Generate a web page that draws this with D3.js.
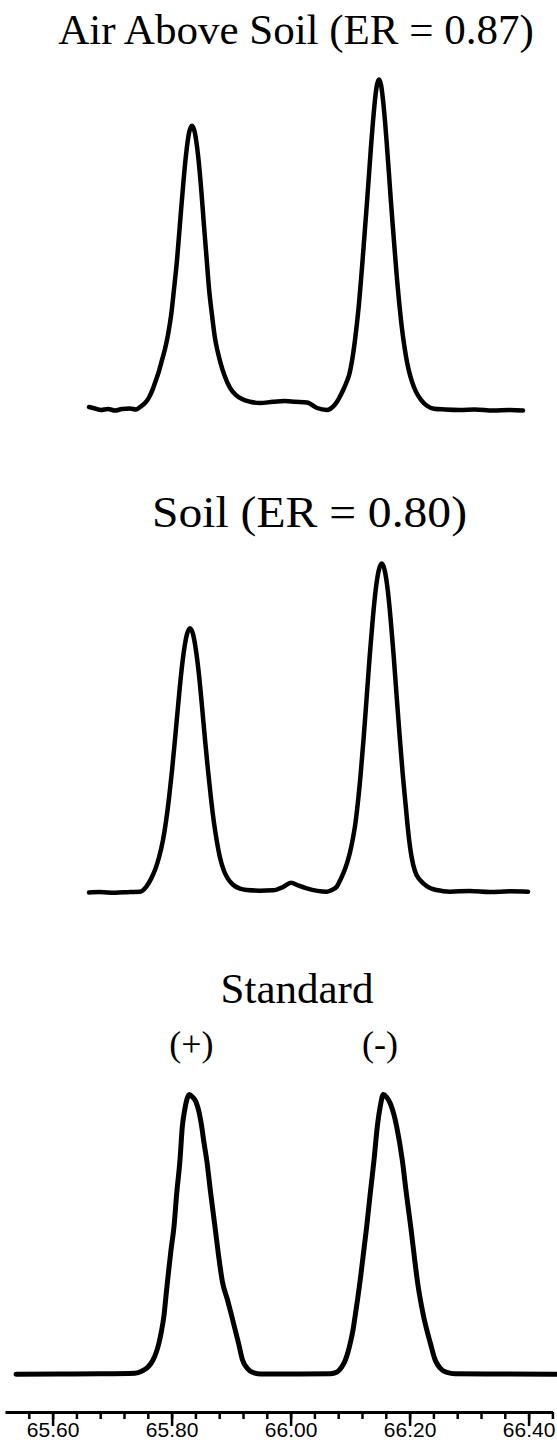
<!DOCTYPE html>
<html>
<head>
<meta charset="utf-8">
<script src="https://cdn.jsdelivr.net/npm/d3@7"></script>
<style>
  body { margin: 0; background: #fff; }
  svg { display: block; }
</style>
</head>
<body>
<div id="chart"></div>
<script>
// panel titles and peak labels
const titles = ["Air Above Soil (ER = 0.87)", "Soil (ER = 0.80)", "Standard"];
const peakLabels = ["(+)", "(-)"];
const peakLabelTimes = [65.8334, 66.1503];

// retention time axis (minutes)
const majorTicks = [65.60, 65.80, 66.00, 66.20, 66.40];
const tickLabels = ["65.60", "65.80", "66.00", "66.20", "66.40"];
const minorTicks = [65.56, 65.60, 65.64, 65.68, 65.72, 65.76, 65.80, 65.84, 65.88, 65.92, 65.96, 66.00,
  66.04, 66.08, 66.12, 66.16, 66.20, 66.24, 66.28, 66.32, 66.36, 66.40, 66.44];

// [time, relative signal]
const airAboveSoil = [
  [65.6612, 0.6], [65.6713, 0.15], [65.6813, -0.3], [65.6931, 0], [65.7049, -0.46], [65.7166, 0],
  [65.7301, 0.15], [65.7402, -0.15], [65.7469, 0.6], [65.7553, 1.8], [65.7620, 3.5], [65.7687, 6.2],
  [65.7738, 8.8], [65.7788, 11.5], [65.7839, 14.9], [65.7889, 18.2], [65.7939, 22.5], [65.7990, 28.2],
  [65.8040, 36.3], [65.8091, 45.2], [65.8141, 56.3], [65.8192, 67.5], [65.8242, 77.1], [65.8292, 83.7],
  [65.8343, 86.0], [65.8393, 83.7], [65.8444, 77.1], [65.8494, 67.5], [65.8545, 55.5], [65.8587, 46.0],
  [65.8629, 36.5], [65.8679, 28.5], [65.8729, 21.5], [65.8780, 17.0], [65.8830, 13.5], [65.8897, 9.8],
  [65.8982, 6.4], [65.9082, 4.2], [65.9183, 3.0], [65.9318, 2.2], [65.9486, 1.8], [65.9704, 2.2],
  [65.9906, 2.4], [66.0074, 2.2], [66.0276, 2.0], [66.0444, 0.3], [66.0612, -0.3], [66.0713, 0.7],
  [66.0780, 2.2], [66.0847, 4.4], [66.0897, 6.3], [66.0948, 8.5], [66.0982, 10.2], [66.1015, 12.9],
  [66.1049, 16.5], [66.1082, 20.9], [66.1116, 26.1], [66.1150, 32.1], [66.1183, 39.1], [66.1217, 46.9],
  [66.1250, 54.7], [66.1284, 62.8], [66.1318, 71.2], [66.1351, 79.6], [66.1385, 87.3], [66.1418, 93.8],
  [66.1452, 98.4], [66.1486, 100], [66.1519, 98.4], [66.1553, 93.8], [66.1587, 87.3], [66.1620, 79.6],
  [66.1654, 71.2], [66.1687, 62.8], [66.1721, 54.7], [66.1755, 46.9], [66.1788, 39.5], [66.1822, 32.8],
  [66.1855, 27.0], [66.1889, 22.0], [66.1923, 17.8], [66.1956, 14.3], [66.1990, 11.5], [66.2040, 8.3],
  [66.2108, 5.2], [66.2192, 2.8], [66.2292, 1.0], [66.2410, 0.1], [66.2595, -0.15], [66.2847, -0.3],
  [66.3099, -0.15], [66.3402, -0.46], [66.3687, -0.3], [66.3906, -0.46]
];

const soil = [
  [65.6612, -0.15], [65.6797, 0], [65.7049, -0.24], [65.7301, 0], [65.7469, 0.1], [65.7570, 1.5],
  [65.7654, 4.0], [65.7721, 6.7], [65.7788, 10.5], [65.7855, 15.8], [65.7906, 21.5], [65.7956, 28.5],
  [65.8007, 37.0], [65.8057, 46.5], [65.8108, 56.5], [65.8158, 66.0], [65.8208, 73.5], [65.8259, 78.5],
  [65.8309, 80.3], [65.8360, 78.5], [65.8410, 73.5], [65.8461, 66.0], [65.8511, 56.5], [65.8561, 46.5],
  [65.8612, 37.0], [65.8662, 28.5], [65.8713, 21.0], [65.8763, 15.2], [65.8813, 10.5], [65.8881, 6.4],
  [65.8948, 4.0], [65.9032, 2.2], [65.9150, 1.0], [65.9267, 0.6], [65.9486, 0.4], [65.9704, 0.5],
  [65.9872, 1.5], [66.0007, 2.8], [66.0124, 2.0], [66.0271, 1.1], [66.0607, 0.1], [66.0679, 0.5],
  [66.0775, 1.6], [66.0830, 3.5], [66.0889, 5.8], [66.0948, 8.8], [66.0998, 12.0], [66.1044, 16.0],
  [66.1082, 20.0], [66.1128, 26.8], [66.1178, 36.0], [66.1229, 47.2], [66.1279, 59.4], [66.1329, 71.7],
  [66.1380, 82.9], [66.1430, 92.0], [66.1481, 97.9], [66.1531, 100], [66.1582, 97.9], [66.1632, 92.0],
  [66.1682, 82.9], [66.1733, 71.7], [66.1783, 59.4], [66.1834, 47.2], [66.1884, 36.0], [66.1934, 26.4],
  [66.1985, 17.0], [66.2035, 10.5], [66.2091, 6.3], [66.2158, 4.0], [66.2230, 2.65], [66.2343, 1.2],
  [66.2456, 0.6], [66.2679, 0.1], [66.3015, 0.3], [66.3351, 0], [66.3687, 0.2], [66.3990, 0.1]
];

const standard = [
  [65.5385, -0.07], [65.6124, 0], [65.6797, 0.07], [65.7385, 0.29], [65.7503, 1.07], [65.7603, 2.5],
  [65.7679, 4.65], [65.7738, 7.51], [65.7788, 11.09], [65.7830, 15.38], [65.7872, 20.93], [65.7909, 28.62],
  [65.7948, 36.49], [65.7990, 44.36], [65.8040, 52.7], [65.8086, 64.65], [65.8141, 76.57], [65.8180, 88.48],
  [65.8220, 94.45], [65.8259, 98.39], [65.8297, 100], [65.8351, 99.11], [65.8410, 97.32], [65.8461, 93.74],
  [65.8506, 88.48], [65.8545, 82.65], [65.8590, 76.57], [65.8657, 64.65], [65.8729, 52.7], [65.8788, 42.58],
  [65.8855, 32.92], [65.8940, 26.48], [65.9008, 20.93], [65.9128, 10.73], [65.9192, 5.01], [65.9267, 2.15],
  [65.9368, 0.54], [65.9503, 0], [66.0158, 0], [66.0669, 0.07], [66.0780, 0.72], [66.0847, 2.15],
  [66.0914, 4.65], [66.0965, 7.87], [66.1007, 11.45], [66.1049, 15.74], [66.1086, 20.93], [66.1129, 27.19],
  [66.1170, 33.63], [66.1217, 41.86], [66.1276, 52.24], [66.1339, 64.65], [66.1402, 76.57], [66.1457, 88.48],
  [66.1508, 95.89], [66.1558, 100], [66.1612, 99.11], [66.1679, 96.6], [66.1738, 92.67], [66.1783, 88.48],
  [66.1877, 76.57], [66.1945, 64.65], [66.2019, 52.7], [66.2082, 41.5], [66.2133, 32.92], [66.2232, 20.93],
  [66.2353, 10.73], [66.2430, 5.01], [66.2511, 2.15], [66.2629, 0.54], [66.2763, 0.07], [66.3519, 0],
  [66.4477, -0.07]
];

const width = 557, height = 1442;

const svg = d3.select("#chart").append("svg")
  .attr("width", width)
  .attr("height", height)
  .style("background", "#fff");

const x = d3.scaleLinear().domain([65.52, 66.44]).range([5, 552.4]);

const panels = [
  { title: titles[0], data: airAboveSoil, base: 409, top: 79.5, titleX: 296, titleY: 44, fs: 43, titleW: null, stroke: 4.5 },
  { title: titles[1], data: soil, base: 892, top: 563.5, titleX: 309.5, titleY: 527, fs: 45, titleW: 315, stroke: 4.5 },
  { title: titles[2], data: standard, base: 1374, top: 1094.5, titleX: 297, titleY: 1003, fs: 43, titleW: null, stroke: 5 }
];

panels.forEach(p => {
  const y = d3.scaleLinear().domain([0, 100]).range([p.base, p.top]);
  const line = d3.line()
    .x(d => x(d[0]))
    .y(d => y(d[1]))
    .curve(d3.curveMonotoneX);

  svg.append("path")
    .datum(p.data)
    .attr("d", line)
    .attr("fill", "none")
    .attr("stroke", "#000")
    .attr("stroke-width", p.stroke)
    .attr("stroke-linejoin", "round")
    .attr("stroke-linecap", "round");

  const t = svg.append("text")
    .attr("x", p.titleX)
    .attr("y", p.titleY)
    .attr("text-anchor", "middle")
    .attr("font-family", "'Liberation Serif', 'Times New Roman', serif")
    .attr("font-size", p.fs)
    .attr("fill", "#000")
    .text(p.title);
  if (p.titleW) t.attr("textLength", p.titleW).attr("lengthAdjust", "spacingAndGlyphs");
});

// (+) / (-) over the standard peaks
svg.selectAll(".peak-label")
  .data(peakLabels)
  .enter().append("text")
  .attr("class", "peak-label")
  .attr("x", (d, i) => x(peakLabelTimes[i]))
  .attr("y", 1056)
  .attr("text-anchor", "middle")
  .attr("font-family", "'Liberation Serif', 'Times New Roman', serif")
  .attr("font-size", 36)
  .attr("fill", "#000")
  .text(d => d);

// time axis
const axisY = 1412;
svg.append("g")
  .attr("transform", "translate(0," + axisY + ")")
  .call(d3.axisBottom(x).tickValues(minorTicks).tickSize(7).tickSizeOuter(0).tickFormat(""));

const majorAxis = svg.append("g")
  .attr("transform", "translate(0," + axisY + ")")
  .call(d3.axisBottom(x).tickValues(majorTicks).tickSize(14).tickSizeOuter(0)
    .tickFormat((d, i) => tickLabels[i]));

svg.selectAll(".domain").attr("stroke", "#000").attr("stroke-width", 3);
svg.selectAll(".tick line").attr("stroke", "#000").attr("stroke-width", 2.5);
majorAxis.select(".domain").remove();

majorAxis.selectAll(".tick text")
  .attr("y", 25)
  .attr("dy", 0)
  .attr("font-family", "'Liberation Sans', Arial, sans-serif")
  .attr("font-size", 21)
  .attr("fill", "#000");
</script>
</body>
</html>
